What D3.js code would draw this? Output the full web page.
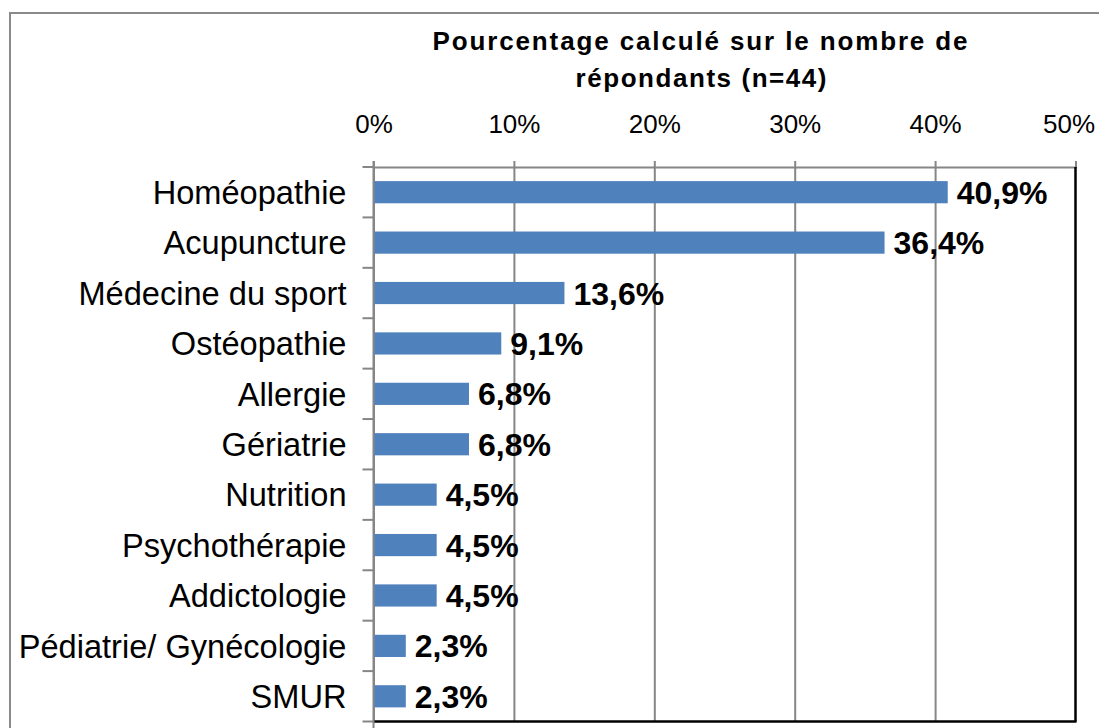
<!DOCTYPE html>
<html>
<head>
<meta charset="utf-8">
<script src="https://cdn.jsdelivr.net/npm/d3@7"></script>
<style>
  html, body { margin: 0; padding: 0; background: #fff; }
  svg { display: block; }
  text { font-family: "Liberation Sans", Arial, sans-serif; fill: #000; }
</style>
</head>
<body>
<div id="app"></div>
<script>
const categories = [
  'Homéopathie', 'Acupuncture', 'Médecine du sport', 'Ostéopathie', 'Allergie',
  'Gériatrie', 'Nutrition', 'Psychothérapie', 'Addictologie',
  'Pédiatrie/ Gynécologie', 'SMUR'
];
const percentages = [40.9, 36.4, 13.6, 9.1, 6.8, 6.8, 4.5, 4.5, 4.5, 2.3, 2.3];
const valueLabels = ['40,9%', '36,4%', '13,6%', '9,1%', '6,8%', '6,8%', '4,5%', '4,5%', '4,5%', '2,3%', '2,3%'];
const xTicks = [0, 10, 20, 30, 40, 50];
const titleLines = ['Pourcentage calculé sur le nombre de', 'répondants (n=44)'];

const w = 1099;
const h = 728;
const plotLeft = 373.5;
const plotRight = 1075.5;
const plotTop = 167;
const plotBottom = 721.5;

const svg = d3.select('#app')
  .append('svg')
  .attr('width', w)
  .attr('height', h);

// outer frame (runs off the picture on the right and bottom)
svg.append('rect')
  .attr('x', 10)
  .attr('y', 13)
  .attr('width', w + 20)
  .attr('height', h + 20)
  .attr('fill', 'none')
  .attr('stroke', '#8a8a8a')
  .attr('stroke-width', 2);

/////////TITLE//////////
svg.append('text')
  .attr('x', 700)
  .attr('y', 50)
  .attr('text-anchor', 'middle')
  .attr('font-size', 26)
  .attr('font-weight', 'bold')
  .attr('textLength', 535)
  .attr('lengthAdjust', 'spacing')
  .text(titleLines[0]);

svg.append('text')
  .attr('x', 701)
  .attr('y', 87)
  .attr('text-anchor', 'middle')
  .attr('font-size', 26)
  .attr('font-weight', 'bold')
  .attr('textLength', 251)
  .attr('lengthAdjust', 'spacing')
  .text(titleLines[1]);

/////////SCALES//////////
const xScale = d3.scaleLinear()
  .domain([0, 50])
  .range([plotLeft, plotRight]);

const yScale = d3.scaleBand()
  .domain(categories)
  .range([plotTop, plotBottom])
  .paddingInner(0.56)
  .paddingOuter(0.28);

/////////AXES//////////
const xAxis = d3.axisTop(xScale)
  .tickValues(xTicks)
  .tickFormat((d) => d + '%')
  .tickSizeOuter(0)
  .tickSize(6)
  .tickPadding(28);

const gx = svg.append('g')
  .attr('transform', 'translate(0,' + plotTop + ')')
  .call(xAxis);

gx.select('.domain')
  .attr('stroke', '#868686')
  .attr('stroke-width', 2);

gx.selectAll('.tick line')
  .attr('stroke', '#868686')
  .attr('stroke-width', 2)
  .attr('y1', (d) => (d === 50 ? 0 : plotBottom - plotTop))
  .attr('y2', -6);

// the last label is pushed left so it stays inside the picture
gx.selectAll('.tick text')
  .attr('font-size', 26)
  .attr('font-family', '"Liberation Sans", Arial, sans-serif')
  .attr('fill', '#000')
  .attr('dx', (d) => (d === 50 ? -7 : 0));

const yAxis = d3.axisLeft(yScale)
  .tickSize(0)
  .tickPadding(27);

const gy = svg.append('g')
  .attr('transform', 'translate(' + plotLeft + ',0)')
  .call(yAxis);

gy.select('.domain').remove();

gy.selectAll('.tick text')
  .attr('font-size', 32.6)
  .attr('font-family', '"Liberation Sans", Arial, sans-serif')
  .attr('fill', '#000')
  .attr('dy', '0.36em');

// category boundary ticks
const gap = (yScale.step() - yScale.bandwidth()) / 2;
const boundaries = categories.map((c) => yScale(c) - gap).concat([yScale(categories[categories.length - 1]) + yScale.bandwidth() + gap]);

svg.selectAll('.catTick')
  .data(boundaries)
  .enter()
  .append('line')
  .attr('class', 'catTick')
  .attr('x1', plotLeft - 11)
  .attr('x2', plotLeft)
  .attr('y1', (d) => d)
  .attr('y2', (d) => d)
  .attr('stroke', '#868686')
  .attr('stroke-width', 2);

// plot border: black right and bottom
svg.append('line')
  .attr('x1', plotRight)
  .attr('x2', plotRight)
  .attr('y1', plotTop)
  .attr('y2', plotBottom)
  .attr('stroke', '#000')
  .attr('stroke-width', 2.5);

svg.append('line')
  .attr('x1', plotLeft)
  .attr('x2', plotRight + 1)
  .attr('y1', plotBottom)
  .attr('y2', plotBottom)
  .attr('stroke', '#000')
  .attr('stroke-width', 2.5);

// left axis line
svg.append('line')
  .attr('x1', plotLeft)
  .attr('x2', plotLeft)
  .attr('y1', plotTop - 6)
  .attr('y2', h)
  .attr('stroke', '#868686')
  .attr('stroke-width', 2);

//////////BARS//////////
svg.selectAll('.bar')
  .data(percentages)
  .enter()
  .append('rect')
  .attr('class', 'bar')
  .attr('x', xScale(0) + 1)
  .attr('y', (d, i) => yScale(categories[i]))
  .attr('width', (d) => xScale(d) - xScale(0) - 1)
  .attr('height', yScale.bandwidth())
  .attr('fill', '#4F81BD');

svg.selectAll('.valueLabel')
  .data(percentages)
  .enter()
  .append('text')
  .attr('class', 'valueLabel')
  .attr('x', (d) => xScale(d) + 9)
  .attr('y', (d, i) => yScale(categories[i]) + yScale.bandwidth() / 2)
  .attr('dy', '0.36em')
  .attr('font-size', 32)
  .attr('font-weight', 'bold')
  .text((d, i) => valueLabels[i]);
</script>
</body>
</html>
